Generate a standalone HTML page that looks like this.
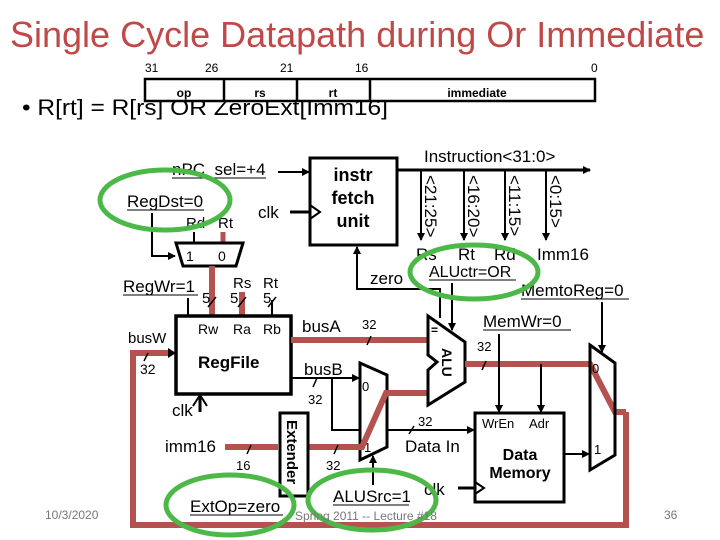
<!DOCTYPE html>
<html><head><meta charset="utf-8"><style>
html,body{margin:0;padding:0;background:#fff;}
svg{display:block;font-family:"Liberation Sans",sans-serif;}
</style></head><body>
<svg width="720" height="540" viewBox="0 0 720 540" xmlns="http://www.w3.org/2000/svg">
<defs>
<marker id="a" markerWidth="8" markerHeight="8" refX="7" refY="4" orient="auto" markerUnits="userSpaceOnUse"><path d="M0,0 L8,4 L0,8 z" fill="#000"/></marker>
</defs>
<text x="10" y="47" font-size="36" fill="#c04848">Single Cycle Datapath during Or Immediate</text>
<text x="22" y="115" font-size="22" textLength="366" lengthAdjust="spacingAndGlyphs">• R[rt] = R[rs] OR ZeroExt[Imm16]</text>
<g font-size="12">
<text x="145" y="72">31</text><text x="205" y="72">26</text><text x="280" y="72">21</text><text x="355" y="72">16</text><text x="591" y="72">0</text>
</g>
<rect x="145" y="79" width="450" height="22" fill="#fff" stroke="#000" stroke-width="2.5"/>
<path d="M224,79V101M297,79V101M370,79V101" stroke="#000" stroke-width="2.5"/>
<g font-size="12" font-weight="bold" text-anchor="middle">
<text x="184" y="97">op</text><text x="260" y="97">rs</text><text x="333" y="97">rt</text><text x="477" y="97">immediate</text>
</g>

<!-- instr fetch -->
<rect x="310" y="158" width="87" height="87" fill="#fff" stroke="#000" stroke-width="3"/>
<g font-size="18" font-weight="bold" text-anchor="middle"><text x="353" y="181">instr</text><text x="353" y="204">fetch</text><text x="353" y="227">unit</text></g>
<text x="172" y="175" font-size="17">nPC_sel=+4</text><line x1="172" y1="178" x2="266" y2="178" stroke="#000"/>
<line x1="278" y1="172" x2="309" y2="172" stroke="#000" stroke-width="2" marker-end="url(#a)"/>
<text x="258" y="218" font-size="17">clk</text>
<line x1="290" y1="212" x2="310" y2="212" stroke="#000" stroke-width="3"/>
<path d="M310,205 L320,212 L310,219" fill="none" stroke="#000" stroke-width="2"/>
<line x1="397" y1="170" x2="590" y2="170" stroke="#000" stroke-width="3" marker-end="url(#a)"/>
<text x="424" y="162" font-size="17">Instruction&lt;31:0&gt;</text>
<g stroke="#000" stroke-width="2"><line x1="421" y1="170" x2="421" y2="240" marker-end="url(#a)"/><line x1="464" y1="170" x2="464" y2="240" marker-end="url(#a)"/><line x1="505" y1="170" x2="505" y2="240" marker-end="url(#a)"/><line x1="546" y1="170" x2="546" y2="240" marker-end="url(#a)"/></g>
<g font-size="17"><text transform="translate(425,175) rotate(90)">&lt;21:25&gt;</text><text transform="translate(468,175) rotate(90)">&lt;16:20&gt;</text><text transform="translate(509,175) rotate(90)">&lt;11:15&gt;</text><text transform="translate(550,175) rotate(90)">&lt;0:15&gt;</text></g>
<g font-size="17"><text x="416" y="260">Rs</text><text x="458" y="260">Rt</text><text x="494" y="260">Rd</text><text x="537" y="260">Imm16</text></g>
<text x="429" y="277" font-size="16">ALUctr=OR</text><line x1="429" y1="280" x2="516" y2="280" stroke="#000"/>
<text x="521" y="296" font-size="17">MemtoReg=0</text><line x1="521" y1="299" x2="629" y2="299" stroke="#000"/>
<text x="483" y="327" font-size="17">MemWr=0</text><line x1="483" y1="330" x2="571" y2="330" stroke="#000"/>
<text x="370" y="284" font-size="17">zero</text>
<path d="M440,318 V289 H357 V247" fill="none" stroke="#000" stroke-width="2" marker-end="url(#a)"/>

<!-- RegDst mux -->
<text x="127" y="207" font-size="17">RegDst=0</text><line x1="127" y1="210" x2="204" y2="210" stroke="#000"/>
<text x="186" y="228" font-size="15">Rd</text><text x="218" y="228" font-size="15">Rt</text>
<path d="M152,213 V256 H175" fill="none" stroke="#000" stroke-width="2" marker-end="url(#a)"/>
<line x1="194" y1="232" x2="194" y2="243" stroke="#000" stroke-width="2"/>
<line x1="223" y1="232" x2="223" y2="243" stroke="#b5524f" stroke-width="5"/>
<polygon points="176,243 243,243 236,266 183,266" fill="#fff" stroke="#000" stroke-width="3"/>
<text x="186" y="261" font-size="14">1</text><text x="218" y="261" font-size="14">0</text>
<g stroke="#b5524f" stroke-width="6"><line x1="212" y1="266" x2="212" y2="316"/><line x1="242" y1="292" x2="242" y2="316"/></g>
<text x="123" y="292" font-size="17">RegWr=1</text><line x1="123" y1="295" x2="198" y2="295" stroke="#000"/>
<line x1="188" y1="298" x2="188" y2="316" stroke="#000" stroke-width="2"/>
<line x1="272" y1="300" x2="272" y2="316" stroke="#000" stroke-width="2"/>
<g font-size="15"><text x="233" y="288">Rs</text><text x="263" y="288">Rt</text><text x="202" y="303">5</text><text x="230" y="303">5</text><text x="263" y="303">5</text></g>
<g stroke="#000" stroke-width="1.5"><line x1="208" y1="307" x2="216" y2="297"/><line x1="238" y1="307" x2="246" y2="297"/><line x1="268" y1="307" x2="276" y2="297"/></g>

<!-- RegFile -->
<rect x="176" y="316" width="115" height="78" fill="#fff" stroke="#000" stroke-width="3.5"/>
<g font-size="14"><text x="198" y="334">Rw</text><text x="233" y="334">Ra</text><text x="263" y="334">Rb</text></g>
<text x="198" y="368" font-size="17" font-weight="bold">RegFile</text>
<path d="M193,406 L200,395 L207,406" fill="none" stroke="#000" stroke-width="2"/>
<line x1="200" y1="396" x2="200" y2="412" stroke="#000" stroke-width="3"/>
<text x="172" y="416" font-size="17">clk</text>
<text x="128" y="343" font-size="15">busW</text><text x="140" y="374" font-size="14">32</text>
<path d="M626,412 V525 H133 V353 H170" fill="none" stroke="#b5524f" stroke-width="6"/>
<path d="M168,348 L176,353 L168,358 z" fill="#000"/>
<line x1="144" y1="361" x2="148" y2="353" stroke="#000" stroke-width="1.5"/>

<!-- busA / busB -->
<text x="302" y="332" font-size="17">busA</text>
<line x1="291" y1="340" x2="428" y2="340" stroke="#b5524f" stroke-width="6"/>
<text x="362" y="329" font-size="13">32</text><line x1="367" y1="345" x2="371" y2="336" stroke="#000" stroke-width="1.5"/>
<text x="304" y="375" font-size="17">busB</text>
<line x1="291" y1="378" x2="359" y2="378" stroke="#000" stroke-width="2" marker-end="url(#a)"/>
<text x="308" y="404" font-size="13">32</text><line x1="313" y1="387" x2="317" y2="378" stroke="#000" stroke-width="1.5"/>
<path d="M332,378 V430 H474" fill="none" stroke="#000" stroke-width="2" marker-end="url(#a)"/>
<text x="418" y="426" font-size="13">32</text><line x1="409" y1="434" x2="414" y2="426" stroke="#000" stroke-width="1.5"/>
<text x="405" y="452" font-size="17">Data In</text>

<!-- ALUSrc mux -->
<polygon points="360,363 387,375 387,447 360,460" fill="#fff" stroke="#000" stroke-width="3"/>
<text x="362" y="391" font-size="13">0</text><text x="364" y="452" font-size="13">1</text>
<path d="M308,447 H362 L386,393 H428" fill="none" stroke="#b5524f" stroke-width="6"/>
<text x="333" y="502" font-size="17">ALUSrc=1</text><line x1="333" y1="505" x2="409" y2="505" stroke="#000"/>
<line x1="373" y1="485" x2="373" y2="456" stroke="#000" stroke-width="2" marker-end="url(#a)"/>

<!-- Extender -->
<rect x="280" y="413" width="28" height="83" fill="#fff" stroke="#000" stroke-width="3"/>
<text transform="translate(287,420) rotate(90)" font-size="15" font-weight="bold">Extender</text>
<text x="165" y="452" font-size="17">imm16</text>
<line x1="225" y1="447" x2="278" y2="447" stroke="#b5524f" stroke-width="6"/>
<text x="236" y="470" font-size="13">16</text><line x1="247" y1="454" x2="251" y2="445" stroke="#000" stroke-width="1.5"/>
<text x="326" y="470" font-size="13">32</text><line x1="334" y1="454" x2="338" y2="445" stroke="#000" stroke-width="1.5"/>
<text x="190" y="512" font-size="17">ExtOp=zero</text><line x1="190" y1="515" x2="283" y2="515" stroke="#000"/>

<!-- ALU -->
<polygon points="428,316 465,342 465,382 428,405 428,370 437,362 428,355" fill="#fff" stroke="#000" stroke-width="3"/>
<text transform="translate(442,348) rotate(90)" font-size="14" font-weight="bold">ALU</text>
<text x="431" y="334" font-size="12" font-weight="bold">=</text>
<line x1="452" y1="283" x2="452" y2="330" stroke="#000" stroke-width="2" marker-end="url(#a)"/>
<path d="M465,364 H590 L615,412 H626" fill="none" stroke="#b5524f" stroke-width="6"/>
<text x="477" y="351" font-size="13">32</text><line x1="482" y1="370" x2="486" y2="361" stroke="#000" stroke-width="1.5"/>
<line x1="499" y1="334" x2="499" y2="412" stroke="#000" stroke-width="2" marker-end="url(#a)"/>
<line x1="541" y1="364" x2="541" y2="412" stroke="#000" stroke-width="2" marker-end="url(#a)"/>

<!-- Data Memory -->
<rect x="475" y="413" width="89" height="89" fill="#fff" stroke="#000" stroke-width="3"/>
<g font-size="13"><text x="482" y="428">WrEn</text><text x="529" y="428">Adr</text></g>
<g font-size="16" font-weight="bold" text-anchor="middle"><text x="520" y="460">Data</text><text x="520" y="478">Memory</text></g>
<line x1="458" y1="488" x2="475" y2="488" stroke="#000" stroke-width="3"/>
<path d="M475,482 L484,488 L475,494" fill="none" stroke="#000" stroke-width="2"/>
<text x="424" y="495" font-size="17">clk</text>
<line x1="564" y1="454" x2="589" y2="454" stroke="#000" stroke-width="2" marker-end="url(#a)"/>

<!-- MemtoReg mux -->
<polygon points="590,345 615,363 615,455 590,470" fill="none" stroke="#000" stroke-width="3"/>
<text x="592" y="373" font-size="13">0</text><text x="594" y="454" font-size="13">1</text>
<line x1="602" y1="302" x2="602" y2="352" stroke="#000" stroke-width="2" marker-end="url(#a)"/>

<!-- ellipses -->
<g fill="none" stroke="#4cb848" stroke-width="5">
<ellipse cx="165" cy="200" rx="65" ry="30"/>
<ellipse cx="474" cy="272" rx="64" ry="27"/>
<ellipse cx="230" cy="505" rx="64" ry="30"/>
<ellipse cx="372" cy="500" rx="64" ry="30"/>
</g>

<g font-size="12" fill="#777"><text x="45" y="519">10/3/2020</text><text x="295" y="520">Spring 2011 -- Lecture #18</text><text x="664" y="519">36</text></g>
</svg>
</body></html>
